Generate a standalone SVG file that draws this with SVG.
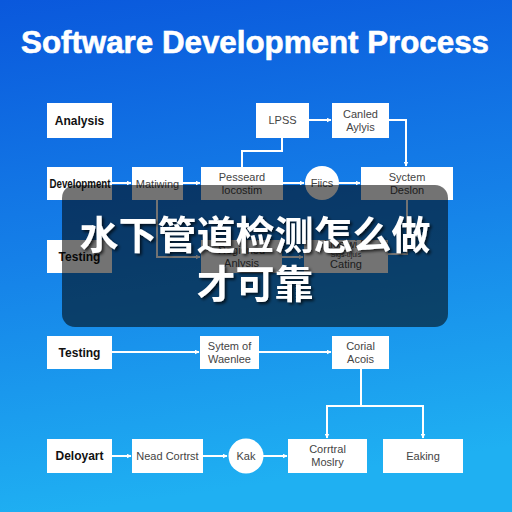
<svg xmlns="http://www.w3.org/2000/svg" width="512" height="512" viewBox="0 0 512 512">
<defs>
<linearGradient id="bg" x1="0" y1="0" x2="0.15" y2="1">
<stop offset="0" stop-color="#0a58dc"/>
<stop offset="0.5" stop-color="#1580e8"/>
<stop offset="1" stop-color="#1fb0f2"/>
</linearGradient>
<marker id="ah" viewBox="0 0 10 10" refX="9" refY="5" markerWidth="5" markerHeight="5" orient="auto" markerUnits="userSpaceOnUse">
<path d="M0,0 L10,5 L0,10 z" fill="#ffffff"/>
</marker>
<filter id="sh" x="-10%" y="-20%" width="120%" height="140%">
<feDropShadow dx="2" dy="2" stdDeviation="1.5" flood-color="#000" flood-opacity="0.7"/>
</filter>
</defs>
<style>
.box{fill:#ffffff}
.lb{font-family:"Liberation Sans",Arial,sans-serif;font-size:12px;font-weight:bold;fill:#111;text-anchor:middle}
.tx{font-family:"Liberation Sans",Arial,sans-serif;font-size:11px;fill:#444;text-anchor:middle}
.sm{font-family:"Liberation Sans",Arial,sans-serif;font-size:7px;fill:#444;text-anchor:middle}
.ln{fill:none;stroke:#ffffff;stroke-width:2}
.ar{fill:none;stroke:#ffffff;stroke-width:2;marker-end:url(#ah)}
.cjk{font-family:"Noto Sans CJK SC",sans-serif;font-size:39px;font-weight:bold;fill:#ffffff;text-anchor:middle}
</style>
<rect x="0" y="0" width="512" height="512" fill="url(#bg)"/>
<text x="255" y="53" font-family="Liberation Sans,Arial,sans-serif" font-size="31" font-weight="bold" fill="#ffffff" text-anchor="middle" textLength="468" lengthAdjust="spacingAndGlyphs" stroke="#ffffff" stroke-width="0.6">Software Development Process</text>

<g id="connectors">
<path class="ar" d="M112,183 H131"/>
<path class="ar" d="M183,183 H200"/>
<path class="ar" d="M283,183 H304"/>
<path class="ar" d="M339,183 H360"/>
<path class="ar" d="M309,120 H331"/>
<path class="ln" d="M242,167 V151 H282 V138"/>
<path class="ar" d="M389,120 H406 V166"/>
<path class="ar" d="M157,200 V257 H200"/>
<path class="ar" d="M282,257 H303"/>
<path class="ln" d="M407,200 V254 H388"/>
<path class="ar" d="M112,352 H199"/>
<path class="ar" d="M259,352 H331"/>
<path class="ln" d="M361,369 V406"/>
<path class="ln" d="M327,406 H423"/>
<path class="ar" d="M327,405 V438"/>
<path class="ar" d="M423,405 V438"/>
<path class="ar" d="M112,456 H131"/>
<path class="ar" d="M203,456 H227"/>
<path class="ar" d="M263,456 H287"/>
</g>

<g id="analysis"><rect class="box" x="47" y="103" width="65" height="35"/><text class="lb" x="79.5" y="125">Analysis</text></g>
<g id="lpss"><rect class="box" x="256" y="103" width="53" height="35"/><text class="tx" x="282.5" y="124">LPSS</text></g>
<g id="canled"><rect class="box" x="332" y="103" width="57" height="35"/><text class="tx" x="360.5" y="118">Canled</text><text class="tx" x="360.5" y="131">Aylyis</text></g>

<g id="development"><rect class="box" x="47" y="167" width="65" height="33"/><text class="lb" x="80" y="187.5" textLength="61" lengthAdjust="spacingAndGlyphs">Development</text></g>
<g id="matiwing"><rect class="box" x="132" y="167" width="51" height="33"/><text class="tx" x="157.5" y="187.5">Matiwing</text></g>
<g id="pesseard"><rect class="box" x="201" y="167" width="82" height="33"/><text class="tx" x="242" y="181">Pesseard</text><text class="tx" x="242" y="194">locostim</text></g>
<g id="fiics"><circle class="box" cx="322" cy="183" r="17"/><text class="tx" x="322" y="187">Fiics</text></g>
<g id="system-design"><rect class="box" x="361" y="167" width="92" height="33"/><text class="tx" x="407" y="181">Syctem</text><text class="tx" x="407" y="194">Deslon</text></g>

<g id="testing1"><rect class="box" x="47" y="240" width="65" height="33"/><text class="lb" x="79.5" y="260.5">Testing</text></g>
<g id="regioned"><rect class="box" x="201" y="240" width="81" height="33"/><text class="tx" x="241.5" y="254">Regioned</text><text class="tx" x="241.5" y="267">Anlysis</text></g>
<g id="cating"><rect class="box" x="304" y="240" width="84" height="33"/><text class="tx" x="346" y="248">Liosiwi B</text><text class="sm" x="346" y="257">Sigs-ujuis</text><text class="tx" x="346" y="268">Cating</text></g>

<rect x="62" y="185" width="386" height="142" rx="13" fill="#000000" fill-opacity="0.55"/>
<g filter="url(#sh)">
<text class="cjk" x="255" y="249">水下管道检测怎么做</text>
<text class="cjk" x="255" y="298">才可靠</text>
</g>

<g id="testing2"><rect class="box" x="47" y="336" width="65" height="33"/><text class="lb" x="79.5" y="356.5">Testing</text></g>
<g id="sytem-of"><rect class="box" x="200" y="336" width="59" height="33"/><text class="tx" x="229.5" y="350">Sytem of</text><text class="tx" x="229.5" y="363">Waenlee</text></g>
<g id="corial"><rect class="box" x="332" y="336" width="57" height="33"/><text class="tx" x="360.5" y="350">Corial</text><text class="tx" x="360.5" y="363">Acois</text></g>

<g id="deloyart"><rect class="box" x="47" y="439" width="65" height="34"/><text class="lb" x="79.5" y="460">Deloyart</text></g>
<g id="nead"><rect class="box" x="132" y="439" width="71" height="34"/><text class="tx" x="167.5" y="460">Nead Cortrst</text></g>
<g id="kak"><circle class="box" cx="246" cy="456" r="17.5"/><text class="tx" x="246" y="460">Kak</text></g>
<g id="corrtral"><rect class="box" x="288" y="439" width="79" height="34"/><text class="tx" x="327.5" y="453">Corrtral</text><text class="tx" x="327.5" y="466">Moslry</text></g>
<g id="eaking"><rect class="box" x="383" y="439" width="80" height="34"/><text class="tx" x="423" y="460">Eaking</text></g>
</svg>
